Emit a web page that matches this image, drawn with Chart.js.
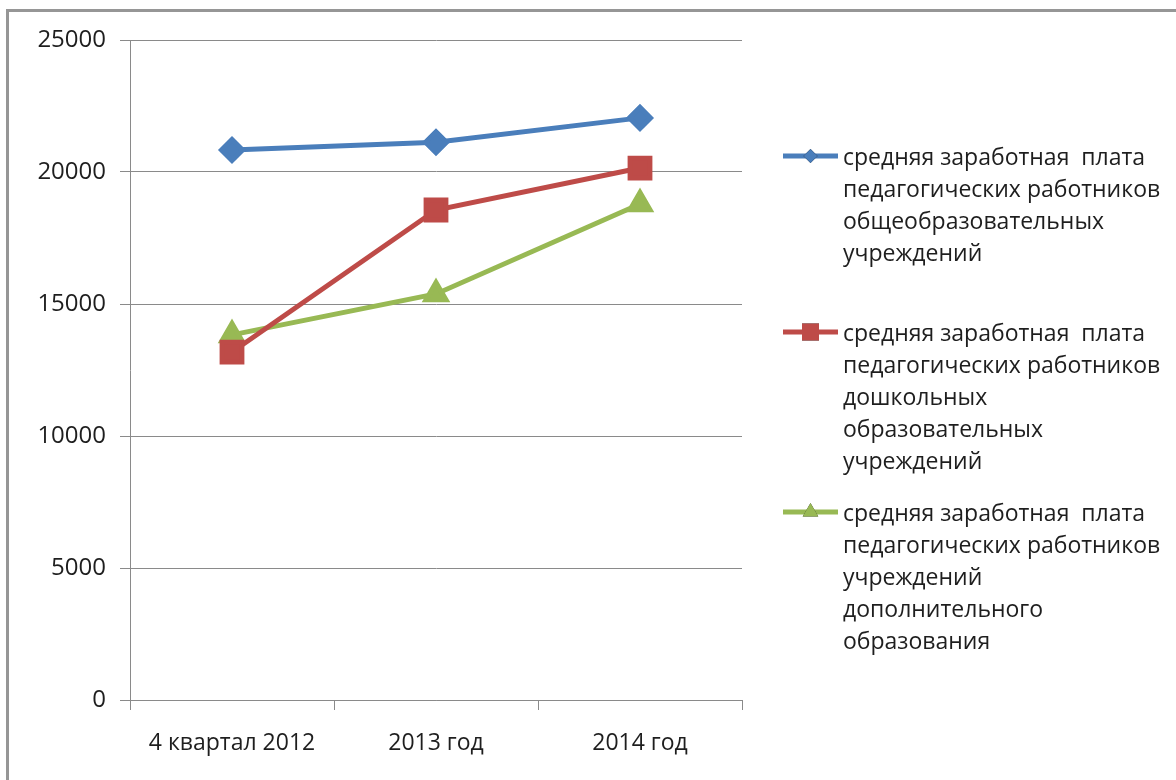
<!DOCTYPE html>
<html>
<head>
<meta charset="utf-8">
<script src="https://cdn.jsdelivr.net/npm/chart.js@4.4.1/dist/chart.umd.min.js"></script>
<style>
  html, body { margin: 0; padding: 0; background: #fff; width: 1176px; height: 780px; overflow: hidden; }
  #frame { position: absolute; left: 6px; top: 9px; width: 1300px; height: 900px;
           border-top: 3px solid #969696; border-left: 3px solid #969696; }
  #wrap { position: absolute; left: 0; top: 0; width: 1176px; height: 780px; }
</style>
</head>
<body>
<div id="frame"></div>
<div id="wrap"><canvas id="c" width="1176" height="780"></canvas></div>
<script>
// ---- data ----
const categories = ["4 квартал 2012", "2013 год", "2014 год"];
const generalSchools = [20830, 21130, 22050];
const preschools = [13180, 18560, 20150];
const additionalEducation = [13830, 15380, 18790];
const yTicks = [0, 5000, 10000, 15000, 20000, 25000];
const labelGeneral = ["средняя заработная  плата", "педагогических работников", "общеобразовательных", "учреждений"];
const labelPreschool = ["средняя заработная  плата", "педагогических работников", "дошкольных", "образовательных", "учреждений"];
const labelAdditional = ["средняя заработная  плата", "педагогических работников", "учреждений", "дополнительного", "образования"];

const FONT = "'Open Sans', 'DejaVu Sans', sans-serif";

const customLegend = {
  id: 'customLegend',
  afterDraw(chart, args, opts) {
    const ctx = chart.ctx;
    ctx.save();
    chart.data.datasets.forEach((ds, i) => {
      const y0 = opts.tops[i];
      ctx.strokeStyle = ds.borderColor;
      ctx.lineWidth = 5;
      ctx.beginPath();
      ctx.moveTo(opts.lineX0, y0);
      ctx.lineTo(opts.lineX1, y0);
      ctx.stroke();
      Chart.helpers.drawPoint(ctx, {
        pointStyle: ds.pointStyle, radius: opts.markerR[i], rotation: 0, borderWidth: 0
      }, (opts.lineX0 + opts.lineX1) / 2, y0);
      ctx.fillStyle = ds.pointBackgroundColor;
      ctx.fill();
      ctx.fillStyle = '#1e1e1e';
      ctx.font = opts.font;
      ctx.textBaseline = 'middle';
      ctx.textAlign = 'left';
      ds.legendLines.forEach((t, k) => {
        ctx.fillText(t, opts.textX, y0 + 2 + k * opts.lineH);
      });
    });
    ctx.restore();
  }
};

new Chart(document.getElementById('c'), {
  type: 'line',
  data: {
    labels: categories,
    datasets: [
      { label: labelGeneral.join(' '), legendLines: labelGeneral, data: generalSchools,
        borderColor: '#4a7ebb', backgroundColor: '#4a7ebb', pointBackgroundColor: '#4a7ebb',
        pointBorderColor: '#4a7ebb', pointStyle: 'rectRot', pointRadius: 10.5, borderWidth: 5 },
      { label: labelPreschool.join(' '), legendLines: labelPreschool, data: preschools,
        borderColor: '#be4b48', backgroundColor: '#be4b48', pointBackgroundColor: '#be4b48',
        pointBorderColor: '#be4b48', pointStyle: 'rect', pointRadius: 14, borderWidth: 5 },
      { label: labelAdditional.join(' '), legendLines: labelAdditional, data: additionalEducation,
        borderColor: '#98b954', backgroundColor: '#98b954', pointBackgroundColor: '#98b954',
        pointBorderColor: '#98b954', pointStyle: 'triangle', pointRadius: 11.5, borderWidth: 5 }
    ]
  },
  options: {
    responsive: false,
    animation: false,
    events: [],
    layout: { padding: { top: 40, right: 434, left: 0, bottom: 0 } },
    elements: { line: { tension: 0 }, point: { borderWidth: 1 } },
    plugins: {
      legend: { display: false },
      tooltip: { enabled: false },
      customLegend: {
        tops: [156, 332, 512],
        lineX0: 783, lineX1: 838, textX: 843, lineH: 32,
        markerR: [7, 12, 9],
        font: "23px " + FONT
      }
    },
    scales: {
      x: {
        offset: true,
        grid: { offset: true, drawOnChartArea: false, drawTicks: true, tickLength: 10, color: '#8a8a8a', lineWidth: 1 },
        border: { display: true, color: '#8a8a8a', width: 1 },
        ticks: { color: '#1e1e1e', font: { family: FONT, size: 23 }, padding: 20, maxRotation: 0 },
        afterFit(s) { s.height = 80; }
      },
      y: {
        min: 0, max: 25000,
        afterBuildTicks(s) { s.ticks = yTicks.map(v => ({ value: v })); },
        grid: { color: '#8a8a8a', lineWidth: 1, tickLength: 10, drawTicks: true },
        border: { display: true, color: '#8a8a8a', width: 1 },
        ticks: { color: '#1e1e1e', font: { family: FONT, size: 24 }, padding: 14,
                 callback: v => String(v) },
        afterFit(s) { s.width = 130; }
      }
    }
  },
  plugins: [customLegend]
});
</script>
</body>
</html>
